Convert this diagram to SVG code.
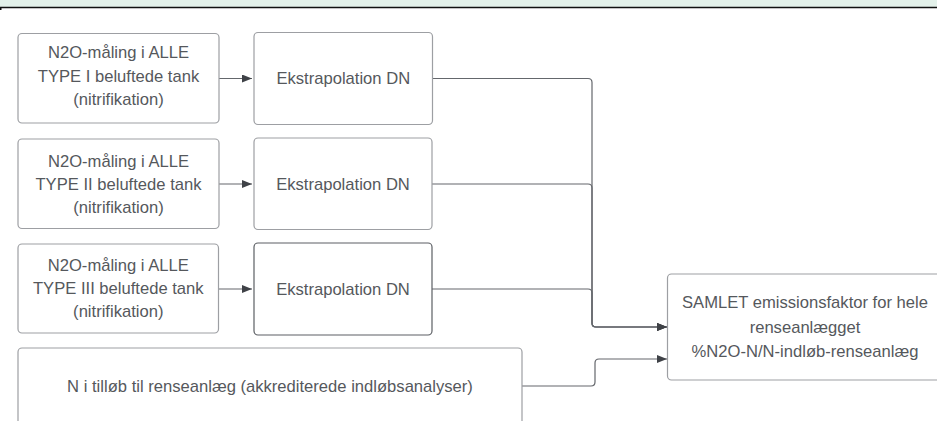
<svg xmlns="http://www.w3.org/2000/svg" width="937" height="421" viewBox="0 0 937 421">
  <defs>
    <marker id="arrow" viewBox="0 0 10 8" refX="10" refY="4" markerWidth="10" markerHeight="8" markerUnits="userSpaceOnUse" orient="auto">
      <path d="M0,0 L10,4 L0,8 Z" fill="#3f4247"/>
    </marker>
  </defs>
  <style>
    .box { fill: #ffffff; stroke: #9d9fa3; stroke-width: 1.2; }
    .box-dark { fill: #ffffff; stroke: #5c5f64; stroke-width: 1.2; }
    .label { font-family: "Liberation Sans", Arial, sans-serif; font-size: 16.6px; fill: #55585c; text-anchor: middle; }
    .link { fill: none; stroke: #64676c; stroke-width: 1.2; }
  </style>

  <!-- header strip -->
  <rect x="0" y="0" width="937" height="7" fill="#e3f1ea"/>
  <line x1="0" y1="7.5" x2="937" y2="7.5" stroke="#111111" stroke-width="1.5"/>
  <rect x="0" y="7" width="1.5" height="3" fill="#111111"/>

  <!-- connectors -->
  <g id="connectors">
    <line class="link" x1="219" y1="78.5" x2="252" y2="78.5" marker-end="url(#arrow)"/>
    <line class="link" x1="219" y1="184" x2="252" y2="184" marker-end="url(#arrow)"/>
    <line class="link" x1="219" y1="289" x2="252" y2="289" marker-end="url(#arrow)"/>
    <path class="link" d="M432.5,78.5 H588 Q592,78.5 592,82.5 V323 Q592,327 596,327 H667" marker-end="url(#arrow)"/>
    <path class="link" d="M432,184 H588 Q592,184 592,188 V323 Q592,327 596,327 H667" marker-end="url(#arrow)"/>
    <path class="link" d="M432,289 H588 Q592,289 592,293 V323 Q592,327 596,327 H667" marker-end="url(#arrow)"/>
    <path class="link" d="M522,386 H591 Q595,386 595,382 V363 Q595,359 599,359 H667" marker-end="url(#arrow)"/>
  </g>

  <!-- row 1 -->
  <g id="maaling-type1">
    <rect class="box" x="18" y="33.5" width="201" height="89.5" rx="4"/>
    <text class="label" x="118.5" y="57.5">N2O-måling i ALLE</text>
    <text class="label" x="118.5" y="82">TYPE I beluftede tank</text>
    <text class="label" x="118.5" y="105">(nitrifikation)</text>
  </g>
  <g id="ekstrapolation-1">
    <rect class="box" x="254" y="32.5" width="178.5" height="92" rx="4"/>
    <text class="label" x="343.3" y="84">Ekstrapolation DN</text>
  </g>

  <!-- row 2 -->
  <g id="maaling-type2">
    <rect class="box" x="18" y="139" width="201" height="89.5" rx="4"/>
    <text class="label" x="118.5" y="167">N2O-måling i ALLE</text>
    <text class="label" x="118.5" y="190">TYPE II beluftede tank</text>
    <text class="label" x="118.5" y="213">(nitrifikation)</text>
  </g>
  <g id="ekstrapolation-2">
    <rect class="box" x="254" y="138" width="178" height="91.5" rx="4"/>
    <text class="label" x="343" y="190">Ekstrapolation DN</text>
  </g>

  <!-- row 3 -->
  <g id="maaling-type3">
    <rect class="box" x="18" y="244" width="200.5" height="89" rx="4"/>
    <text class="label" x="118.3" y="271">N2O-måling i ALLE</text>
    <text class="label" x="118.3" y="294">TYPE III beluftede tank</text>
    <text class="label" x="118.3" y="317">(nitrifikation)</text>
  </g>
  <g id="ekstrapolation-3">
    <rect class="box-dark" x="254" y="243" width="178" height="92" rx="4"/>
    <text class="label" x="343" y="295">Ekstrapolation DN</text>
  </g>

  <!-- inlet nitrogen -->
  <g id="tilloeb">
    <rect class="box" x="18" y="348" width="504" height="100" rx="4"/>
    <text class="label" x="270" y="392">N i tilløb til renseanlæg (akkrediterede indløbsanalyser)</text>
  </g>

  <!-- total emission factor -->
  <g id="samlet">
    <rect class="box" x="667.5" y="274" width="300" height="106" rx="4"/>
    <text class="label" x="805" y="308">SAMLET emissionsfaktor for hele</text>
    <text class="label" x="805" y="333">renseanlægget</text>
    <text class="label" x="805" y="357">%N2O-N/N-indløb-renseanlæg</text>
  </g>
</svg>
